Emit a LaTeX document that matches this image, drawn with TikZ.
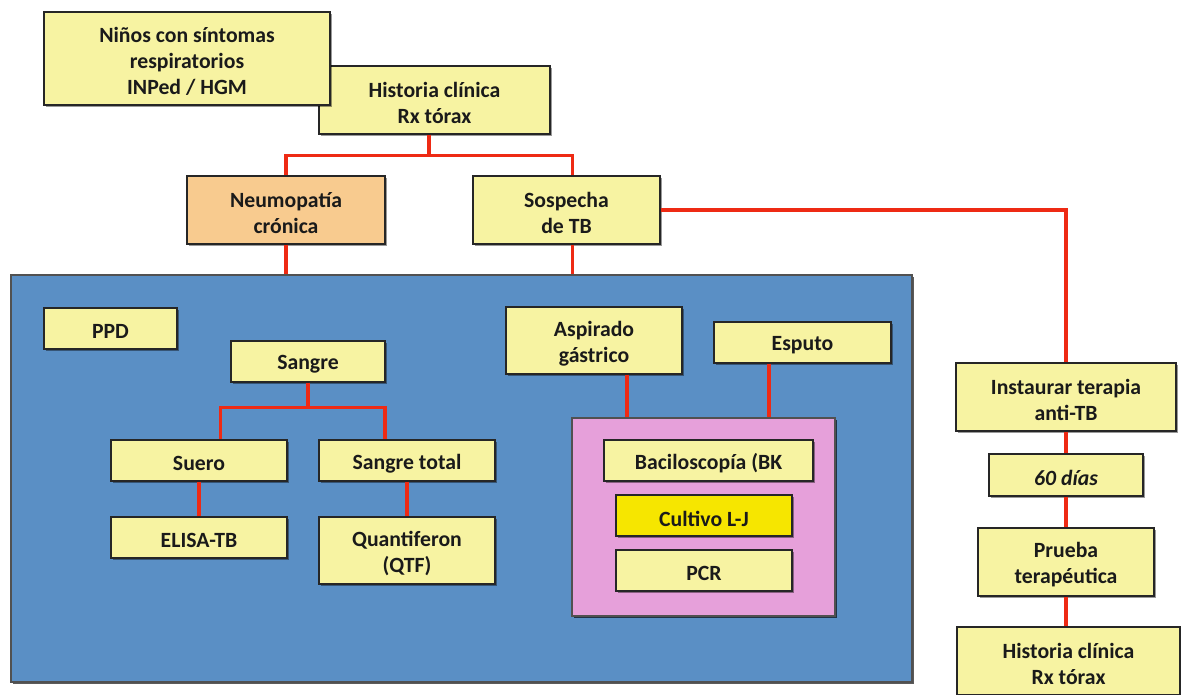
\documentclass[tikz,border=0pt]{standalone}
\usepackage{fontspec}
\setmainfont{Carlito}
\usetikzlibrary{calc,shadows}
\definecolor{byel}{HTML}{F7F3A2}
\definecolor{bora}{HTML}{F8CB8F}
\definecolor{bblue}{HTML}{5A8FC5}
\definecolor{bpink}{HTML}{E6A0DA}
\definecolor{bbright}{HTML}{F6E600}
\definecolor{lred}{HTML}{EE2A14}
\definecolor{bord}{HTML}{262626}
\definecolor{txt}{HTML}{1A1A1A}
\tikzset{
  box/.style={draw=bord, line width=1.1pt, fill=byel, inner sep=0pt,
    drop shadow={shadow xshift=1.2pt, shadow yshift=-1.2pt, opacity=0.4, fill=black}},
  boxtext/.style={align=center, inner sep=0pt, text=txt,
    font=\fontsize{16.3}{19.5}\selectfont\bfseries},
  panel/.style={box, draw=bord!80},
  link/.style={draw=lred, line width=2.3pt},
}
\newcommand\bx[7][]{%
  \pgfmathsetmacro\bxcx{(#3+#5)/2}%
  \pgfmathsetmacro\bxcy{(#4+#6)/2}%
  \pgfmathsetmacro\bxw{(#5-#3)*0.75}%
  \pgfmathsetmacro\bxh{(#6-#4)*0.75}%
  \node[box,#1,minimum width=\bxw pt,minimum height=\bxh pt] (#2) at (\bxcx,\bxcy) {};
  \node[boxtext] (#2-t) at ($(#2.center)+(0,3)$) {#7};}
\begin{document}
\begin{tikzpicture}[x=0.75pt,y=-0.75pt]
\useasboundingbox (0,0) rectangle (1181,694);
\clip (0,0) rectangle (1181,694);
\fill[white] (0,0) rectangle (1181,694);
% panels
\bx[panel,fill=bblue]{blue}{11}{275}{912}{682}{}
\bx[panel,fill=bpink]{pink}{572}{418}{835}{616}{}
% top
\bx{hc}{319}{66}{550}{134}{Historia clínica\\Rx tórax}
\bx{ninos}{44}{12}{330}{105}{Niños con síntomas\\respiratorios\\INPed / HGM}
\bx[fill=bora]{neu}{187}{176}{385}{244}{Neumopatía\\crónica}
\bx{sos}{473}{176}{660}{244}{Sospecha\\de TB}
% blue panel contents
\bx{ppd}{44}{308}{177}{349}{PPD}
\bx{sangre}{231}{341}{385}{382}{Sangre}
\bx{suero}{111}{440}{287}{481}{Suero}
\bx{stotal}{319}{440}{495}{481}{Sangre total}
\bx{elisa}{111}{517}{287}{558}{ELISA-TB}
\bx{qtf}{319}{517}{495}{584}{Quantiferon\\(QTF)}
\bx{asp}{506}{307}{682}{374}{Aspirado\\gástrico}
\bx{esp}{714}{322}{891}{363}{Esputo}
\bx{bk}{604}{440}{813}{481}{Baciloscopía (BK}
\bx[fill=bbright]{cult}{616}{495}{792}{536}{Cultivo L-J}
\bx{pcr}{616}{550}{792}{591}{PCR}
% right column
\bx{inst}{956}{363}{1176}{431}{Instaurar terapia\\anti-TB}
\bx{dias}{989}{454}{1143}{496}{\itshape 60 días}
\bx{prueba}{978}{528}{1154}{596}{Prueba\\terapéutica}
\bx{hc2}{957}{627}{1180}{695}{Historia clínica\\Rx tórax}
% connectors
\coordinate (h1) at ($(hc.south)+(-5.5,0)$);
\coordinate (s1) at ($(sos.north)+(5.7,0)$);
\coordinate (s2) at ($(sos.south)+(5.7,0)$);
\draw[link] (h1) -- ++(0,20.3) -| (neu.north);
\draw[link] (h1) -- ++(0,20.3) -| (s1);
\draw[link] (neu.south) -- (neu.south |- blue.north);
\draw[link] (s2) -- (s2 |- blue.north);
\draw[link] (sos.east) -| (inst.north);
\coordinate (su1) at ($(suero.north)+(21.3,0)$);
\coordinate (st1) at ($(stotal.north)+(-22,0)$);
\draw[link] (sangre.south) -- ++(0,24.5) -| (su1);
\draw[link] (sangre.south) -- ++(0,24.5) -| (st1);
\draw[link] (suero.south) -- (elisa.north);
\draw[link] (stotal.south) -- (qtf.north);
\coordinate (a1) at ($(asp.south)+(33,0)$);
\coordinate (e1) at ($(esp.south)+(-33.5,0)$);
\draw[link] (a1) -- (a1 |- pink.north);
\draw[link] (e1) -- (e1 |- pink.north);
\draw[link] (inst.south) -- (dias.north);
\draw[link] (dias.south) -- (prueba.north);
\draw[link] (prueba.south) -- (prueba.south |- hc2.north);
\end{tikzpicture}
\end{document}
